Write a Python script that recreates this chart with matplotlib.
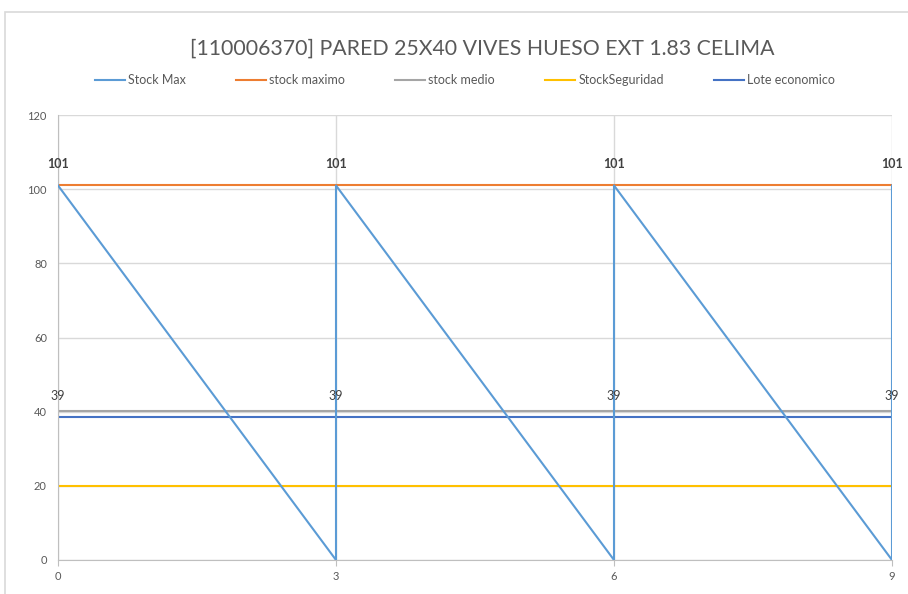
import matplotlib
matplotlib.use("Agg")
import matplotlib.pyplot as plt
from matplotlib.patches import Rectangle

plt.rcParams['font.family'] = ['Lato', 'DejaVu Sans']

title = "[110006370] PARED 25X40 VIVES HUESO EXT 1.83 CELIMA"
stock_max_x = [0, 3, 3, 6, 6, 9, 9]
stock_max_y = [101, 0, 101, 0, 101, 0, 101]
period_x = [0, 3, 6, 9]
stock_maximo = [101, 101, 101, 101]
stock_medio = [40.3, 40.3, 40.3, 40.3]
stock_seguridad = [20, 20, 20, 20]
lote_economico = [38.6, 38.6, 38.6, 38.6]
x_ticks = [0, 3, 6, 9]
y_ticks = [0, 20, 40, 60, 80, 100, 120]

fig = plt.figure(figsize=(9.08, 5.94), dpi=100)
fig.patches.append(Rectangle((5/908, -0.1), 1.2, 1 - 12/594 + 0.1, transform=fig.transFigure,
                             fill=False, edgecolor='#d9d9d9', linewidth=1.2))
ax = fig.add_axes([58/908, 34/594, (892-58)/908, (560-115)/594])

ax.plot(stock_max_x, stock_max_y, color='#5b9bd5', lw=1.5, label='Stock Max', zorder=3)
ax.plot(period_x, stock_maximo, color='#ed7d31', lw=1.5, label='stock maximo', zorder=2)
ax.plot(period_x, stock_medio, color='#a5a5a5', lw=1.5, label='stock medio', zorder=2)
ax.plot(period_x, stock_seguridad, color='#ffc000', lw=1.5, label='StockSeguridad', zorder=2)
ax.plot(period_x, lote_economico, color='#4472c4', lw=1.5, label='Lote economico', zorder=2)

for xv, yv in zip(period_x, stock_maximo):
    ax.annotate(f"{yv:.0f}", (xv, yv), xytext=(0, 11), textcoords='offset points',
                ha='center', va='bottom', fontsize=9, fontweight='bold', color='#404040',
                annotation_clip=False)
for xv, yv in zip(period_x, lote_economico):
    ax.annotate(f"{yv:.0f}", (xv, yv), xytext=(0, 11), textcoords='offset points',
                ha='center', va='bottom', fontsize=9, color='#404040',
                annotation_clip=False)

ax.set_xlim(0, 9)
ax.set_ylim(0, 120)
ax.set_xticks(x_ticks)
ax.set_yticks(y_ticks)
ax.grid(True, color='#d9d9d9', lw=1)
ax.set_axisbelow(True)
for s in ['top', 'right']:
    ax.spines[s].set_visible(False)
for s in ['left', 'bottom']:
    ax.spines[s].set_color('#bfbfbf')
ax.tick_params(colors='#595959', labelsize=8, length=4, color='#bfbfbf')
ax.tick_params(axis='y', length=0, pad=8)
ax.tick_params(axis='x', direction='out', pad=4)

fig.text(482/908, 1 - 49/594, title, ha='center', va='center', fontsize=15.3, color='#595959')
fig.legend(loc='center', bbox_to_anchor=(465/908, 1 - 80/594), ncol=5, frameon=False,
           fontsize=9, handlelength=2.4, handletextpad=0.25, columnspacing=4.0,
           labelcolor='#595959')

fig.savefig('out.png', dpi=100)
